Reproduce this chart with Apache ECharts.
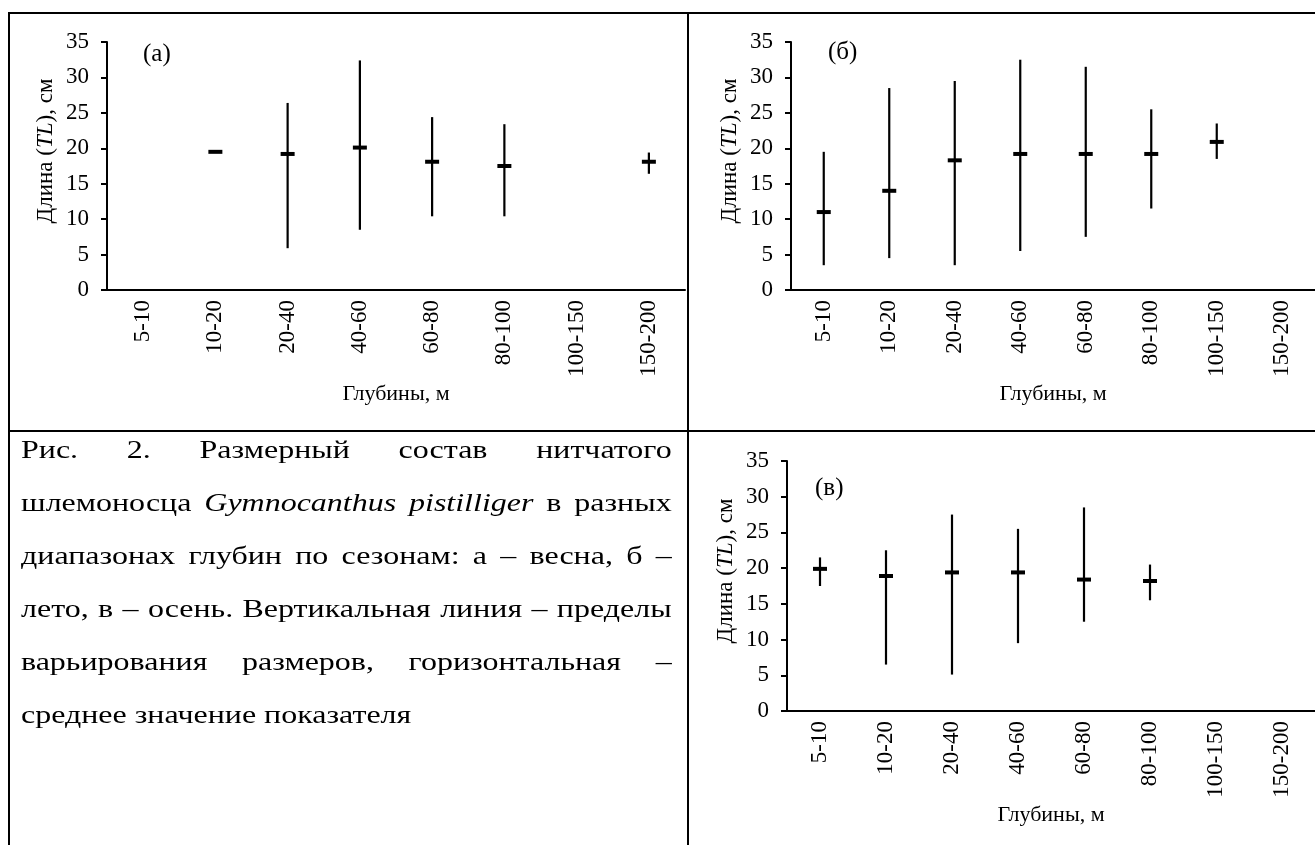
<!DOCTYPE html>
<html lang="ru">
<head>
<meta charset="UTF-8">
<title>Размерный состав нитчатого шлемоносца</title>
<script src="https://cdn.jsdelivr.net/npm/echarts@6/dist/echarts.min.js"></script>
<style>
    html, body { margin: 0; padding: 0; background: #fff; }
    #fig { position: absolute; left: 0; top: 0; width: 1315px; height: 845px; }
    #caption {
        position: absolute; left: 21px; top: 423px; width: 529px;
        transform: scaleX(1.23); transform-origin: 0 0;
        font-family: 'Liberation Serif', 'Times New Roman', serif;
        font-size: 26px; line-height: 53px; color: #000;
    }
    #caption .ln { text-align: justify; text-align-last: justify; white-space: nowrap; }
    #caption .last { text-align: left; text-align-last: left; }
</style>
</head>
<body>
<div id="fig"></div>
<div id="caption">
    <div class="ln">Рис. 2. Размерный состав нитчатого</div>
    <div class="ln">шлемоносца <i>Gymnocanthus pistilliger</i> в разных</div>
    <div class="ln">диапазонах глубин по сезонам: а – весна, б –</div>
    <div class="ln">лето, в – осень. Вертикальная линия – пределы</div>
    <div class="ln">варьирования размеров, горизонтальная –</div>
    <div class="ln last">среднее значение показателя</div>
</div>
<script type="text/javascript">
// диапазоны глубин, м
var depths = ['5-10', '10-20', '20-40', '40-60', '60-80', '80-100', '100-150', '150-200'];

// (а) весна: мин, среднее, макс (TL, см)
var springMin  = [null, 19.5, 5.9, 8.5, 10.4, 10.4, null, 16.4];
var springMean = [null, 19.5, 19.2, 20.1, 18.1, 17.5, null, 18.1];
var springMax  = [null, 19.5, 26.4, 32.4, 24.4, 23.4, null, 19.4];

// (б) лето
var summerMin  = [3.5, 4.5, 3.5, 5.5, 7.5, 11.5, 18.5, null];
var summerMean = [11.0, 14.0, 18.3, 19.2, 19.2, 19.2, 20.9, null];
var summerMax  = [19.5, 28.5, 29.5, 32.5, 31.5, 25.5, 23.5, null];

// (в) осень
var autumnMin  = [17.5, 6.5, 5.1, 9.5, 12.5, 15.5, null, null];
var autumnMean = [19.9, 18.9, 19.4, 19.4, 18.4, 18.2, null, null];
var autumnMax  = [21.5, 22.5, 27.5, 25.5, 28.5, 20.5, null, null];

// шкала по Y
var yMin = 0, yMax = 35, yStep = 5;

var FONT = "'Liberation Serif', 'Times New Roman', serif";

function buildData(mins, means, maxs) {
    var out = [];
    for (var i = 0; i < depths.length; i++) {
        if (means[i] == null) continue;
        out.push([i, mins[i], means[i], maxs[i]]);
    }
    return out;
}

// вертикальная линия - пределы, горизонтальная - среднее
function renderRange(params, api) {
    var x = api.value(0);
    var lo = api.coord([x, api.value(1)]);
    var mid = api.coord([x, api.value(2)]);
    var hi = api.coord([x, api.value(3)]);
    return {
        type: 'group',
        children: [
            { type: 'line', shape: { x1: lo[0], y1: lo[1], x2: hi[0], y2: hi[1] },
              style: { stroke: '#000', lineWidth: 2.2 } },
            { type: 'line', shape: { x1: mid[0] - 7, y1: mid[1], x2: mid[0] + 7, y2: mid[1] },
              style: { stroke: '#000', lineWidth: 4 } }
        ]
    };
}

function xAxisFor(idx) {
    return {
        type: 'category', gridIndex: idx, data: depths, boundaryGap: true,
        name: 'Глубины, м', nameLocation: 'middle', nameGap: 93,
        nameTextStyle: { fontFamily: FONT, fontSize: 22, color: '#000' },
        axisLine: { lineStyle: { color: '#000', width: 2 } },
        axisTick: { length: 6, lineStyle: { color: '#000', width: 2 } },
        axisLabel: { rotate: 90, interval: 0, margin: 10, fontFamily: FONT, fontSize: 23, color: '#000' },
        splitLine: { show: false }
    };
}

function yAxisFor(idx) {
    return {
        type: 'value', gridIndex: idx, min: yMin, max: yMax, interval: yStep,
        name: '{n|Длина (}{i|TL}{n|), см}', nameLocation: 'middle', nameGap: 50,
        nameTextStyle: {
            padding: [0, 0, 0, 30],
            rich: {
                n: { fontFamily: FONT, fontSize: 23, color: '#000' },
                i: { fontFamily: FONT, fontSize: 23, color: '#000', fontStyle: 'italic' }
            }
        },
        axisLine: { show: true, lineStyle: { color: '#000', width: 2 } },
        axisTick: { show: true, length: 6, lineStyle: { color: '#000', width: 2 } },
        axisLabel: { margin: 18, fontFamily: FONT, fontSize: 23, color: '#000' },
        splitLine: { show: false }
    };
}

var chart = echarts.init(document.getElementById('fig'));

var panelText = { fontFamily: FONT, fontSize: 25, fontWeight: 'normal', color: '#000' };

chart.setOption({
    animation: false,
    backgroundColor: '#fff',
    title: [
        { text: '(а)', left: 143, top: 42, textStyle: panelText, padding: 0 },
        { text: '(б)', left: 828, top: 40, textStyle: panelText, padding: 0 },
        { text: '(в)', left: 815, top: 476, textStyle: panelText, padding: 0 }
    ],
    grid: [
        { left: 107, top: 42, width: 578, height: 248 },
        { left: 791, top: 42, width: 526, height: 248 },
        { left: 787, top: 461, width: 531, height: 250 }
    ],
    xAxis: [xAxisFor(0), xAxisFor(1), xAxisFor(2)],
    yAxis: [yAxisFor(0), yAxisFor(1), yAxisFor(2)],
    series: [
        { name: 'весна', type: 'custom', xAxisIndex: 0, yAxisIndex: 0, renderItem: renderRange,
          encode: { x: 0, y: [1, 2, 3] }, data: buildData(springMin, springMean, springMax) },
        { name: 'лето', type: 'custom', xAxisIndex: 1, yAxisIndex: 1, renderItem: renderRange,
          encode: { x: 0, y: [1, 2, 3] }, data: buildData(summerMin, summerMean, summerMax) },
        { name: 'осень', type: 'custom', xAxisIndex: 2, yAxisIndex: 2, renderItem: renderRange,
          encode: { x: 0, y: [1, 2, 3] }, data: buildData(autumnMin, autumnMean, autumnMax) }
    ],
    // рамка таблицы
    graphic: [
        { type: 'line', shape: { x1: 8, y1: 13, x2: 1315, y2: 13 }, style: { stroke: '#000', lineWidth: 2 } },
        { type: 'line', shape: { x1: 9, y1: 13, x2: 9, y2: 845 }, style: { stroke: '#000', lineWidth: 2 } },
        { type: 'line', shape: { x1: 688, y1: 13, x2: 688, y2: 845 }, style: { stroke: '#000', lineWidth: 2 } },
        { type: 'line', shape: { x1: 8, y1: 431, x2: 1315, y2: 431 }, style: { stroke: '#000', lineWidth: 2 } }
    ]
});
</script>
</body>
</html>
